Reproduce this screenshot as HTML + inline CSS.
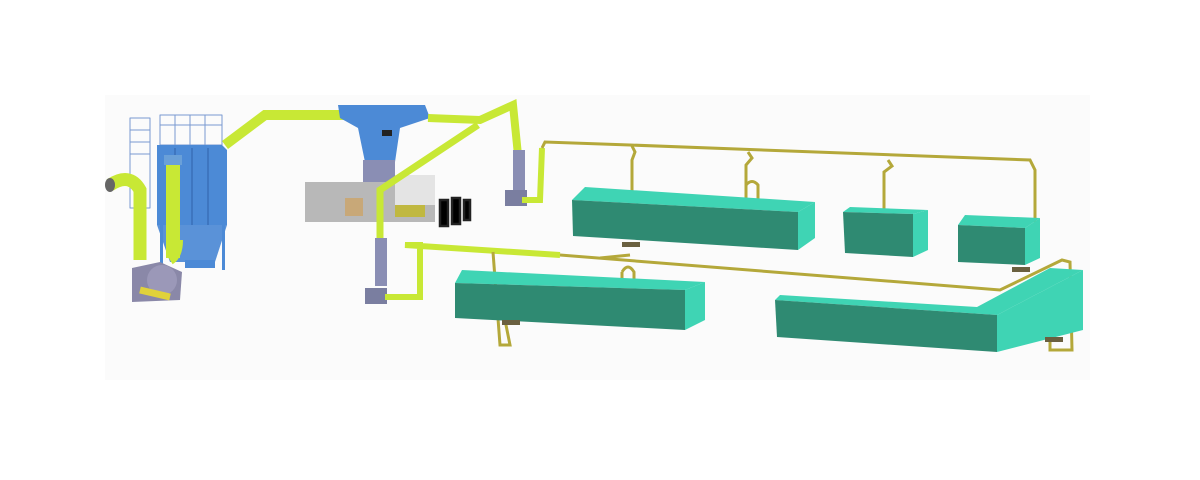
<!DOCTYPE html>
<html><head><style>html,body{margin:0;padding:0;background:#fff;}svg{display:block}</style></head>
<body>
<svg width="1200" height="480" viewBox="0 0 1200 480" xmlns="http://www.w3.org/2000/svg">
<rect x="0" y="0" width="1200" height="480" fill="#fff"/>
<rect x="105" y="95" width="985" height="285" fill="#fbfbfb"/>
<g fill="none" stroke-linecap="round" stroke-linejoin="round">
<!-- cage -->
<g stroke="#7a9ad0" stroke-width="1">
<rect x="130" y="118" width="20" height="90"/>
<line x1="130" y1="130" x2="150" y2="130"/><line x1="130" y1="142" x2="150" y2="142"/><line x1="130" y1="154" x2="150" y2="154"/>
<rect x="160" y="115" width="62" height="30"/>
<line x1="175" y1="115" x2="175" y2="145"/><line x1="190" y1="115" x2="190" y2="145"/><line x1="205" y1="115" x2="205" y2="145"/>
<line x1="160" y1="125" x2="222" y2="125"/>
</g>
</g>
<!-- dust collector -->
<polygon points="157,145 222,145 227,150 227,225 157,225" fill="#4c8ad6"/>
<polygon points="157,225 227,225 215,262 170,262" fill="#5a92d8"/>
<g stroke="#3a6fb8" stroke-width="1.5"><line x1="175" y1="148" x2="175" y2="225"/><line x1="192" y1="148" x2="192" y2="225"/><line x1="208" y1="148" x2="208" y2="225"/></g>
<rect x="160" y="225" width="3" height="45" fill="#4c8ad6"/><rect x="222" y="225" width="3" height="45" fill="#4c8ad6"/>
<rect x="185" y="260" width="30" height="8" fill="#4c8ad6"/>
<!-- collector column -->
<rect x="166" y="158" width="14" height="100" fill="#c8e835"/>
<rect x="164" y="155" width="18" height="10" fill="#6aa0d8"/>
<!-- left yellow pipe -->
<path d="M110,185 Q130,172 140,190 L140,260" stroke="#c8e835" stroke-width="13" fill="none"/>
<ellipse cx="110" cy="185" rx="5" ry="7" fill="#666"/>
<!-- fan -->
<polygon points="132,268 160,262 182,272 180,300 132,302" fill="#8a88a8"/>
<circle cx="162" cy="280" r="15" fill="#9b98b8"/>
<path d="M140,290 L170,297" stroke="#e0d23a" stroke-width="7"/>
<path d="M170,260 Q178,255 178,240" stroke="#c8e835" stroke-width="10" fill="none"/>
<!-- top pipe -->
<path d="M225,145 L265,115 L345,115" stroke="#c8e835" stroke-width="10" fill="none"/>
<!-- hopper -->
<polygon points="338,105 425,105 430,118 400,128 395,162 365,162 358,128 340,118" fill="#4c8ad6"/>
<rect x="363" y="160" width="32" height="38" fill="#8a8eb4"/>
<rect x="382" y="130" width="10" height="6" fill="#222"/>
<!-- baler -->
<rect x="305" y="182" width="130" height="40" fill="#b8b8b8"/>
<rect x="395" y="175" width="40" height="30" fill="#e4e4e4"/>
<rect x="395" y="205" width="30" height="12" fill="#c0b840"/>
<rect x="345" y="198" width="18" height="18" fill="#c8a878"/>
<g stroke="#222" stroke-width="2.5"><rect x="440" y="200" width="8" height="26"/><rect x="452" y="198" width="8" height="26"/><rect x="464" y="200" width="6" height="20"/></g>
<!-- right pipes -->
<path d="M428,118 L480,120 L513,105 L518,155" stroke="#c8e835" stroke-width="8" fill="none"/>
<rect x="513" y="150" width="12" height="40" fill="#8a8eb4"/>
<rect x="505" y="190" width="22" height="16" fill="#7a7ea0"/>
<path d="M522,200 L540,200 L542,148" stroke="#c8e835" stroke-width="6" fill="none"/>
<path d="M478,125 L380,190 L380,240" stroke="#c8e835" stroke-width="7" fill="none"/>
<rect x="375" y="238" width="12" height="48" fill="#8a8eb4"/>
<rect x="365" y="288" width="22" height="16" fill="#7a7ea0"/>
<path d="M385,297 L420,297 L420,245 L405,245 L560,255" stroke="#c8e835" stroke-width="6" fill="none"/>
<!-- thin pipes -->
<g stroke="#b4a83a" stroke-width="3" fill="none">
<path d="M542,148 L545,142 L630,145 L1030,160 L1035,170 L1035,222"/>
<path d="M632,146 L635,152 L632,160 L632,195"/>
<path d="M748,152 L752,158 L746,165 L746,190 M746,185 Q752,178 758,185 L758,205 M746,185 L746,205"/>
<path d="M888,160 L892,166 L884,172 L884,212"/>
<path d="M560,255 L1000,290 L1062,260 L1070,262 L1072,350 L1050,350 L1050,335"/>
<path d="M493,252 L500,345 L510,345 L505,320"/>
<path d="M622,272 Q628,262 634,272 L634,288 M622,272 L622,288"/>
<path d="M630,255 L600,258"/>
</g>
<!-- boxes -->
<g>
<polygon points="572,200 585,187 815,202 798,212" fill="#3fd4b4"/>
<polygon points="572,200 798,212 798,250 573,236" fill="#2f8a72"/>
<polygon points="798,212 815,202 815,238 798,250" fill="#3fd4b4"/>
<polygon points="843,212 850,207 928,210 913,214" fill="#3fd4b4"/>
<polygon points="843,212 913,214 913,257 845,253" fill="#2f8a72"/>
<polygon points="913,214 928,210 928,250 913,257" fill="#3fd4b4"/>
<polygon points="958,225 965,215 1040,218 1025,228" fill="#3fd4b4"/>
<polygon points="958,225 1025,228 1025,265 958,262" fill="#2f8a72"/>
<polygon points="1025,228 1040,218 1040,258 1025,265" fill="#3fd4b4"/>
<polygon points="455,283 462,270 705,282 685,290" fill="#3fd4b4"/>
<polygon points="455,283 685,290 685,330 455,318" fill="#2f8a72"/>
<polygon points="685,290 705,282 705,320 685,330" fill="#3fd4b4"/>
<polygon points="775,300 780,295 977,307 1050,268 1083,270 997,315" fill="#3fd4b4"/>
<polygon points="775,300 997,315 997,352 777,337" fill="#2f8a72"/>
<polygon points="997,315 1083,270 1083,330 997,352" fill="#3fd4b4"/>
</g>
<!-- supports -->
<g fill="#6a6040"><rect x="622" y="242" width="18" height="5"/><rect x="502" y="320" width="18" height="5"/><rect x="1012" y="267" width="18" height="5"/><rect x="1045" y="337" width="18" height="5"/></g>
</svg>
</body></html>
